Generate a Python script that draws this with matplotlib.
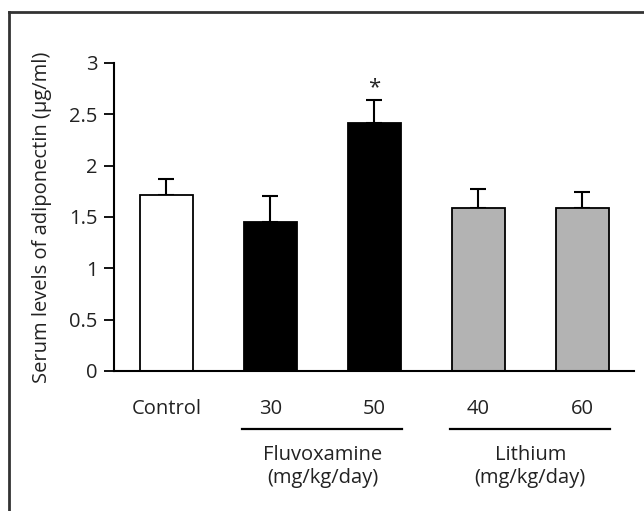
import matplotlib.pyplot as plt
from matplotlib.lines import Line2D

plt.rcParams['font.family'] = ['Open Sans', 'DejaVu Sans']

# data
labels = ['Control', '30', '50', '40', '60']
means = [1.71, 1.45, 2.41, 1.59, 1.59]
errors = [0.16, 0.25, 0.23, 0.18, 0.15]
colors = ['white', 'black', 'black', '#b3b3b3', '#b3b3b3']
groups = ['Fluvoxamine\n(mg/kg/day)', 'Lithium\n(mg/kg/day)']
group_spans = [(1, 2), (3, 4)]
significant = [2]

fs = 14.5
txt = '#222222'

fig = plt.figure(figsize=(6.44, 5.11), dpi=100)
ax = fig.add_axes([0.177, 0.274, 0.807, 0.603])

x = list(range(len(means)))
ax.bar(x, means, width=0.51, color=colors, edgecolor='black', linewidth=1.3, zorder=2)
ax.errorbar(x, means, yerr=[[0] * len(errors), errors], fmt='none',
            ecolor='black', elinewidth=1.5, capsize=6, capthick=1.5, zorder=1)

for i in significant:
    ax.text(i, means[i] + errors[i] + 0.12, '*', ha='center', va='center',
            fontsize=16, color=txt)

ax.set_xlim(-0.505, 4.495)
ax.set_ylim(0, 3)
ax.set_yticks([0, 0.5, 1, 1.5, 2, 2.5, 3])
ax.set_yticklabels(['0', '0.5', '1', '1.5', '2', '2.5', '3'])
ax.set_xticks(x)
ax.set_xticklabels(labels)
ax.tick_params(axis='x', length=0, pad=20, labelsize=fs, labelcolor=txt)
ax.tick_params(axis='y', length=7, width=1.3, pad=5, labelsize=fs, colors='black',
               labelcolor=txt)
ax.set_ylabel('Serum levels of adiponectin (\u03bcg/ml)', fontsize=fs, color=txt,
              labelpad=12)

for side in ['top', 'right']:
    ax.spines[side].set_visible(False)
for side in ['left', 'bottom']:
    ax.spines[side].set_linewidth(1.5)

# group brackets under the dose labels
for (a, b), name in zip(group_spans, groups):
    ax.plot([a - 0.27, b + 0.27], [-0.565, -0.565], color='black', lw=1.6,
            clip_on=False)
    ax.text((a + b) / 2, -0.72, name, ha='center', va='top', fontsize=fs,
            color=txt, linespacing=1.2)

# outer frame, cut off at the right and bottom
fig.add_artist(Line2D([9 / 644, 9 / 644], [0, 1 - 12 / 511], color='#333333', lw=2))
fig.add_artist(Line2D([9 / 644, 1], [1 - 12 / 511, 1 - 12 / 511], color='#333333', lw=2))

fig.savefig('out.png', dpi=100)
